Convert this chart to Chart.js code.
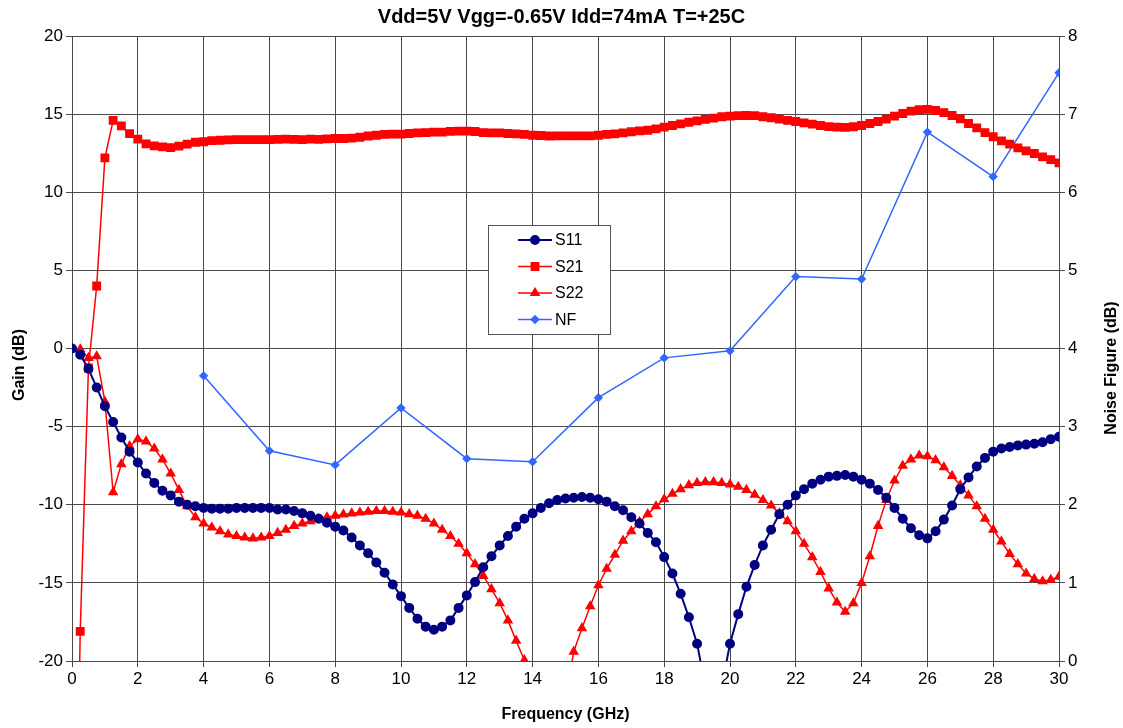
<!DOCTYPE html>
<html>
<head>
<meta charset="utf-8">
<script src="https://cdn.jsdelivr.net/npm/chart.js@4/dist/chart.umd.min.js"></script>
<style>
  html, body { margin: 0; padding: 0; background: #fff; }
  #wrap { width: 1123px; height: 728px; }
</style>
</head>
<body>
<div id="wrap"><canvas id="spChart"></canvas></div>
<script>
// frequency grid of the S-parameter sweep (GHz)
const freq = [
  0, 0.25, 0.5, 0.75, 1, 1.25, 1.5, 1.75, 2, 2.25, 2.5, 2.75, 3, 3.25, 3.5, 3.75,
  4, 4.25, 4.5, 4.75, 5, 5.25, 5.5, 5.75, 6, 6.25, 6.5, 6.75, 7, 7.25, 7.5, 7.75,
  8, 8.25, 8.5, 8.75, 9, 9.25, 9.5, 9.75, 10, 10.25, 10.5, 10.75, 11, 11.25, 11.5, 11.75,
  12, 12.25, 12.5, 12.75, 13, 13.25, 13.5, 13.75, 14, 14.25, 14.5, 14.75, 15, 15.25, 15.5, 15.75,
  16, 16.25, 16.5, 16.75, 17, 17.25, 17.5, 17.75, 18, 18.25, 18.5, 18.75, 19, 19.25, 19.5, 19.75,
  20, 20.25, 20.5, 20.75, 21, 21.25, 21.5, 21.75, 22, 22.25, 22.5, 22.75, 23, 23.25, 23.5, 23.75,
  24, 24.25, 24.5, 24.75, 25, 25.25, 25.5, 25.75, 26, 26.25, 26.5, 26.75, 27, 27.25, 27.5, 27.75,
  28, 28.25, 28.5, 28.75, 29, 29.25, 29.5, 29.75, 30
];

const s11 = [
  0.0, -0.4, -1.3, -2.5, -3.7, -4.7, -5.7, -6.6, -7.3, -8.0, -8.6, -9.1, -9.4, -9.8, -10.0, -10.1,
  -10.2, -10.25, -10.25, -10.25, -10.2, -10.2, -10.2, -10.2, -10.2, -10.3, -10.3, -10.4, -10.55, -10.7, -10.9, -11.15,
  -11.4, -11.65, -12.1, -12.6, -13.1, -13.7, -14.35, -15.1, -15.85, -16.6, -17.3, -17.8, -18.0, -17.8, -17.4, -16.6,
  -15.8, -14.95, -14.0, -13.3, -12.6, -12.0, -11.4, -10.9, -10.55, -10.2, -9.9, -9.7, -9.6, -9.55, -9.5, -9.55,
  -9.65, -9.8, -10.1, -10.35, -10.8, -11.2, -11.8, -12.4, -13.35, -14.4, -15.7, -17.2, -18.9, -21.6, -26.0, -21.6,
  -18.9, -17.0, -15.25, -13.85, -12.6, -11.6, -10.6, -10.0, -9.4, -9.0, -8.65, -8.4, -8.2, -8.15, -8.1, -8.2,
  -8.4, -8.65, -9.05, -9.55, -10.2, -10.9, -11.5, -11.95, -12.15, -11.7, -10.95, -10.05, -9.0, -8.25, -7.55, -7.0,
  -6.6, -6.4, -6.3, -6.2, -6.15, -6.1, -6.0, -5.8, -5.65
];

const s21 = [
  -50, -18.1, -1.25, 4.0, 12.2, 14.6, 14.25, 13.75, 13.4, 13.1, 12.97, 12.9, 12.86, 12.95, 13.08, 13.2,
  13.23, 13.3, 13.33, 13.35, 13.37, 13.37, 13.37, 13.37, 13.37, 13.38, 13.4, 13.38, 13.37, 13.4, 13.38, 13.42,
  13.44, 13.44, 13.46, 13.52, 13.6, 13.65, 13.7, 13.72, 13.72, 13.76, 13.8, 13.82, 13.85, 13.85, 13.9, 13.91,
  13.91, 13.89, 13.82, 13.8, 13.8, 13.76, 13.74, 13.7, 13.65, 13.63, 13.6, 13.61, 13.61, 13.61, 13.61, 13.61,
  13.65, 13.7, 13.74, 13.8, 13.87, 13.93, 13.97, 14.06, 14.17, 14.27, 14.38, 14.48, 14.57, 14.66, 14.74, 14.83,
  14.87, 14.9, 14.91, 14.9, 14.83, 14.77, 14.68, 14.6, 14.53, 14.44, 14.36, 14.27, 14.2, 14.17, 14.15, 14.19,
  14.27, 14.4, 14.53, 14.68, 14.87, 15.04, 15.19, 15.28, 15.3, 15.23, 15.1, 14.91, 14.7, 14.4, 14.12, 13.82,
  13.55, 13.29, 13.08, 12.84, 12.65, 12.48, 12.26, 12.09, 11.88
];

const s22 = [
  0.0, -0.05, -0.6, -0.5, -3.4, -9.2, -7.4, -6.25, -5.8, -5.95, -6.4, -7.1, -8.0, -9.05, -10.1, -10.8,
  -11.2, -11.45, -11.7, -11.9, -12.0, -12.1, -12.15, -12.1, -12.0, -11.8, -11.6, -11.35, -11.2, -11.05, -10.9, -10.8,
  -10.7, -10.62, -10.55, -10.5, -10.45, -10.4, -10.4, -10.45, -10.5, -10.6, -10.7, -10.9, -11.2, -11.6, -12.0, -12.5,
  -13.1, -13.8, -14.55, -15.4, -16.3, -17.4, -18.7, -19.95, -22.0, -25.0, -28.0, -26.0, -22.5, -19.4, -17.9, -16.5,
  -15.15, -14.1, -13.2, -12.3, -11.7, -11.1, -10.6, -10.1, -9.65, -9.3, -9.0, -8.75, -8.6, -8.55, -8.55, -8.6,
  -8.7, -8.85, -9.05, -9.35, -9.7, -10.05, -10.55, -11.05, -11.7, -12.5, -13.35, -14.3, -15.35, -16.25, -16.85, -16.3,
  -15.0, -13.3, -11.35, -9.7, -8.45, -7.5, -7.1, -6.85, -6.9, -7.15, -7.6, -8.15, -8.75, -9.4, -10.1, -10.9,
  -11.6, -12.35, -13.15, -13.8, -14.4, -14.75, -14.9, -14.8, -14.6
];

// noise figure, measured every 2 GHz (right axis)
const nfFreq = [4, 6, 8, 10, 12, 14, 16, 18, 20, 22, 24, 26, 28, 30];
const nf = [3.65, 2.69, 2.51, 3.24, 2.59, 2.55, 3.37, 3.88, 3.97, 4.92, 4.89, 6.77, 6.2, 7.53];

const gainTicks = [-20, -15, -10, -5, 0, 5, 10, 15, 20];
const nfTicks = [0, 1, 2, 3, 4, 5, 6, 7, 8];

const FONT = '"Liberation Sans", Arial, sans-serif';
const GRID = '#4a4a4a';

const nfPoints = nfFreq.map((f, i) => ({ x: f, y: nf[i] }));

// legend drawn as a box inside the plot, like the original
const boxLegend = {
  id: 'boxLegend',
  afterDatasetsDraw(chart) {
    const ctx = chart.ctx;
    ctx.save();
    ctx.fillStyle = '#fff';
    ctx.strokeStyle = '#555';
    ctx.lineWidth = 1;
    ctx.fillRect(488.5, 225.5, 122, 109);
    ctx.strokeRect(488.5, 225.5, 122, 109);
    chart.data.datasets.forEach((ds, i) => {
      const y = 240 + i * 26.5;
      ctx.strokeStyle = ds.borderColor;
      ctx.lineWidth = ds.borderWidth;
      ctx.beginPath();
      ctx.moveTo(518, y);
      ctx.lineTo(552, y);
      ctx.stroke();
      ctx.fillStyle = ds.pointBackgroundColor;
      ctx.strokeStyle = ds.borderColor;
      Chart.helpers.drawPoint(ctx, { pointStyle: ds.pointStyle, radius: ds.pointRadius, rotation: 0, borderWidth: 1 }, 535, y);
      ctx.fillStyle = '#000';
      ctx.font = '16px ' + FONT;
      ctx.textBaseline = 'middle';
      ctx.textAlign = 'left';
      ctx.fillText(ds.label, 555, y + 1);
    });
    ctx.restore();
  }
};

// both y-axis titles read bottom-to-top in the original
const sideTitles = {
  id: 'sideTitles',
  afterDraw(chart) {
    const ctx = chart.ctx;
    const put = (text, x, y) => {
      ctx.save();
      ctx.translate(x, y);
      ctx.rotate(-Math.PI / 2);
      ctx.fillStyle = '#000';
      ctx.font = 'bold 16px ' + FONT;
      ctx.textAlign = 'center';
      ctx.textBaseline = 'middle';
      ctx.fillText(text, 0, 0);
      ctx.restore();
    };
    put('Gain (dB)', 20, 365);
    put('Noise Figure (dB)', 1112, 368);
  }
};

const ctxEl = document.getElementById('spChart');

new Chart(ctxEl, {
  type: 'line',
  data: {
    labels: freq,
    datasets: [
      {
        label: 'S11',
        data: s11,
        borderColor: '#000080',
        pointBackgroundColor: '#000080',
        borderWidth: 2,
        pointStyle: 'circle',
        pointRadius: 4,
        yAxisID: 'y',
      },
      {
        label: 'S21',
        data: s21,
        borderColor: '#ff0000',
        pointBackgroundColor: '#ff0000',
        borderWidth: 1.5,
        pointStyle: 'rect',
        pointRadius: 5.2,
        yAxisID: 'y',
      },
      {
        label: 'S22',
        data: s22,
        borderColor: '#ff0000',
        pointBackgroundColor: '#ff0000',
        borderWidth: 1.5,
        pointStyle: 'triangle',
        pointRadius: 4.6,
        yAxisID: 'y',
      },
      {
        label: 'NF',
        data: nfPoints,
        borderColor: '#3366ff',
        pointBackgroundColor: '#3366ff',
        borderWidth: 1.5,
        pointStyle: 'rectRot',
        pointRadius: 3.6,
        yAxisID: 'y1',
      },
    ],
  },
  options: {
    responsive: true,
    maintainAspectRatio: false,
    animation: false,
    layout: { padding: 0 },
    elements: {
      line: { tension: 0 },
      point: { borderWidth: 1, hoverRadius: 4 },
    },
    plugins: {
      legend: { display: false },
      tooltip: { enabled: false },
      title: {
        display: true,
        text: 'Vdd=5V Vgg=-0.65V Idd=74mA T=+25C',
        color: '#000',
        font: { family: FONT, size: 20, weight: 'bold', lineHeight: 1.2 },
        padding: { top: 5, bottom: 7 },
      },
    },
    scales: {
      x: {
        type: 'linear',
        min: 0,
        max: 30,
        afterFit(scale) { scale.height = 67; },
        ticks: {
          stepSize: 2,
          color: '#000',
          font: { family: FONT, size: 17 },
          padding: 2,
        },
        grid: { color: GRID, lineWidth: 1, tickLength: 6 },
        border: { color: GRID },
        title: {
          display: true,
          text: 'Frequency (GHz)',
          color: '#000',
          font: { family: FONT, size: 16, weight: 'bold' },
          padding: { top: 12 },
        },
      },
      y: {
        position: 'left',
        min: -20,
        max: 20,
        afterFit(scale) { scale.width = 72; },
        afterBuildTicks(scale) { scale.ticks = gainTicks.map(v => ({ value: v })); },
        ticks: {
          color: '#000',
          font: { family: FONT, size: 17 },
          padding: 3,
        },
        grid: { color: GRID, lineWidth: 1, tickLength: 6 },
        border: { color: GRID },
      },
      y1: {
        position: 'right',
        min: 0,
        max: 8,
        afterFit(scale) { scale.width = 64; },
        afterBuildTicks(scale) { scale.ticks = nfTicks.map(v => ({ value: v })); },
        ticks: {
          color: '#000',
          font: { family: FONT, size: 17 },
          padding: 3,
        },
        grid: { drawOnChartArea: false, color: GRID, tickLength: 6 },
        border: { color: GRID },
      },
    },
  },
  plugins: [boxLegend, sideTitles],
});
</script>
</body>
</html>
